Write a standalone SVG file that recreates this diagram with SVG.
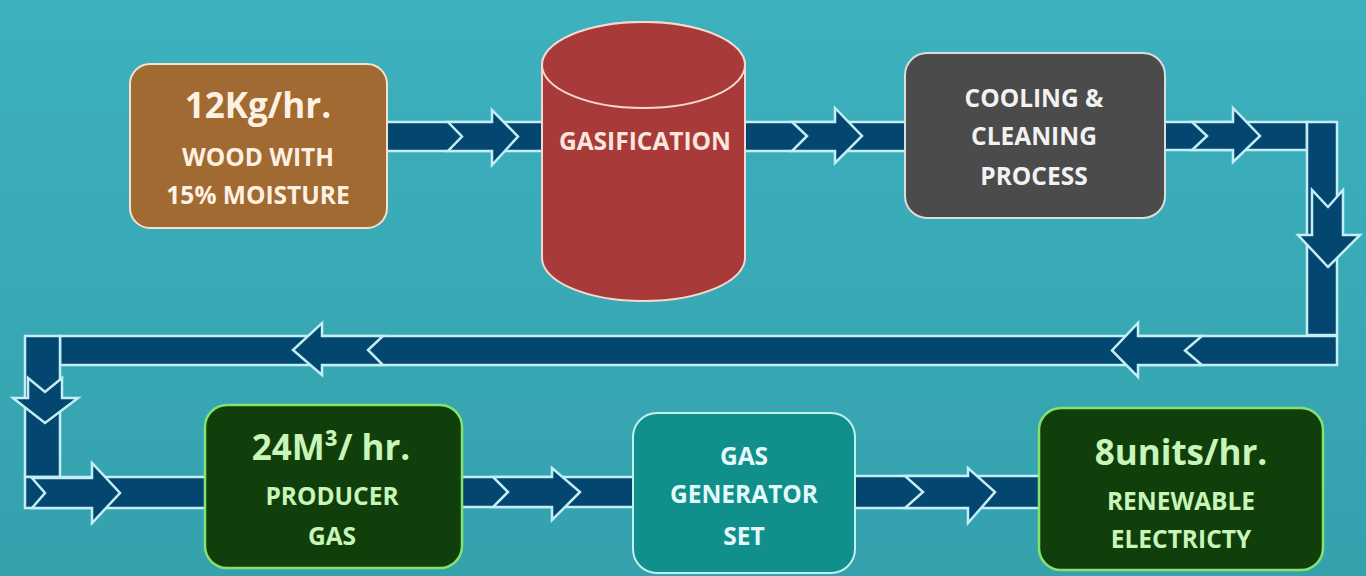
<svg xmlns="http://www.w3.org/2000/svg" width="1366" height="576" viewBox="0 0 1366 576">
  <defs>
    <linearGradient id="bg" x1="0" y1="0" x2="0" y2="1">
      <stop offset="0" stop-color="#3db1be"/>
      <stop offset="1" stop-color="#34a1ad"/>
    </linearGradient>
    <style>
      .band { fill: #03466f; stroke: #c4eef5; stroke-width: 2.5; }
      .chev { fill: #03466f; stroke: #c4eef5; stroke-width: 2.5; stroke-linejoin: miter; }
      text { font-family: "Open Sans", "Liberation Sans", sans-serif; font-weight: 700; text-anchor: middle; }
      .big { font-size: 35px; }
      .mid { font-size: 24.5px; }
    </style>
  </defs>
  <rect x="0" y="0" width="1366" height="576" fill="url(#bg)"/>

  <g id="connectors">
    <rect class="band" x="380" y="122" width="170" height="29"/>
    <rect class="band" x="740" y="122" width="170" height="29"/>
    <rect class="band" x="1160" y="122" width="147" height="28"/>
    <rect class="band" x="1307" y="122" width="30" height="213"/>
    <rect class="band" x="60" y="336" width="1277" height="29"/>
    <rect class="band" x="25" y="336" width="35" height="141"/>
    <rect class="band" x="25" y="477" width="185" height="31"/>
    <rect class="band" x="455" y="477" width="185" height="30"/>
    <rect class="band" x="850" y="476" width="195" height="32"/>

    <path class="chev" d="M448,122 L492,122 L492,110 L518,136.5 L492,165 L492,151 L448,151 L462,136.5 Z"/>
    <path class="chev" d="M792,122 L835,122 L835,108 L862,136 L835,163 L835,151 L792,151 L807,136 Z"/>
    <path class="chev" d="M1192,122 L1233,122 L1233,108 L1260,136 L1233,162 L1233,150 L1192,150 L1207,136 Z"/>
    <path class="chev" d="M1312,190 L1312,235 L1298,235 L1328,267 L1360,235 L1343,235 L1343,190 L1328,207 Z"/>
    <path class="chev" d="M1202,336 L1138,336 L1138,323 L1112,350.5 L1138,377 L1138,365 L1202,365 L1185,350.5 Z"/>
    <path class="chev" d="M383,336 L322,336 L322,323 L293,350 L322,375 L322,365 L383,365 L368,350 Z"/>
    <path class="chev" d="M28,378 L28,398 L13,398 L45,423 L78,398 L62,398 L62,378 L45,392 Z"/>
    <path class="chev" d="M32,478 L92,478 L92,463 L120,493 L92,523 L92,508 L32,508 L45,493 Z"/>
    <path class="chev" d="M493,477 L552,477 L552,468 L580,492 L552,520 L552,507 L493,507 L508,492 Z"/>
    <path class="chev" d="M905,476 L968,476 L968,468 L995,492 L968,523 L968,508 L905,508 L923,492 Z"/>
  </g>

  <g id="wood">
    <rect x="130" y="64" width="257" height="164" rx="20" fill="#a06a32" stroke="#f3e3cc" stroke-width="2"/>
    <text class="big" x="258" y="118" fill="#fff1e2">12Kg/hr.</text>
    <text class="mid" x="258" y="166" fill="#fff1e2">WOOD WITH</text>
    <text class="mid" x="258" y="204" fill="#fff1e2">15% MOISTURE</text>
  </g>

  <g id="gasification">
    <path d="M542,65 L542,258 A101.5,43 0 0 0 745,258 L745,65 A101.5,43 0 0 0 542,65 Z" fill="#a83b3a" stroke="#f5d9cf" stroke-width="2"/>
    <ellipse cx="643.5" cy="65" rx="101.5" ry="43" fill="#a83b3a" stroke="#f5d9cf" stroke-width="2"/>
    <text class="mid" x="645" y="150" fill="#fde6de">GASIFICATION</text>
  </g>

  <g id="cooling">
    <rect x="905" y="53" width="260" height="165" rx="22" fill="#4b4b4b" stroke="#dcdcdc" stroke-width="2"/>
    <text class="mid" x="1034" y="107" fill="#f2f2f2">COOLING &amp;</text>
    <text class="mid" x="1034" y="145" fill="#f2f2f2">CLEANING</text>
    <text class="mid" x="1034" y="185" fill="#f2f2f2">PROCESS</text>
  </g>

  <g id="producer">
    <rect x="205" y="405" width="257" height="163" rx="22" fill="#103f0b" stroke="#86e26f" stroke-width="2.5"/>
    <text class="big" x="331" y="460" fill="#c9f6b8">24M³/ hr.</text>
    <text class="mid" x="332" y="505" fill="#c9f6b8">PRODUCER</text>
    <text class="mid" x="332" y="545" fill="#c9f6b8">GAS</text>
  </g>

  <g id="generator">
    <rect x="633" y="413" width="222" height="160" rx="24" fill="#11908b" stroke="#bff0ee" stroke-width="2"/>
    <text class="mid" x="744" y="465" fill="#e4fafa">GAS</text>
    <text class="mid" x="744" y="503" fill="#e4fafa">GENERATOR</text>
    <text class="mid" x="744" y="545" fill="#e4fafa">SET</text>
  </g>

  <g id="electricity">
    <rect x="1039" y="408" width="284" height="162" rx="22" fill="#103f0b" stroke="#86e26f" stroke-width="2.5"/>
    <text class="big" x="1181" y="465" fill="#c9f6b8">8units/hr.</text>
    <text class="mid" x="1181" y="510" fill="#c9f6b8">RENEWABLE</text>
    <text class="mid" x="1181" y="548" fill="#c9f6b8">ELECTRICTY</text>
  </g>
</svg>
